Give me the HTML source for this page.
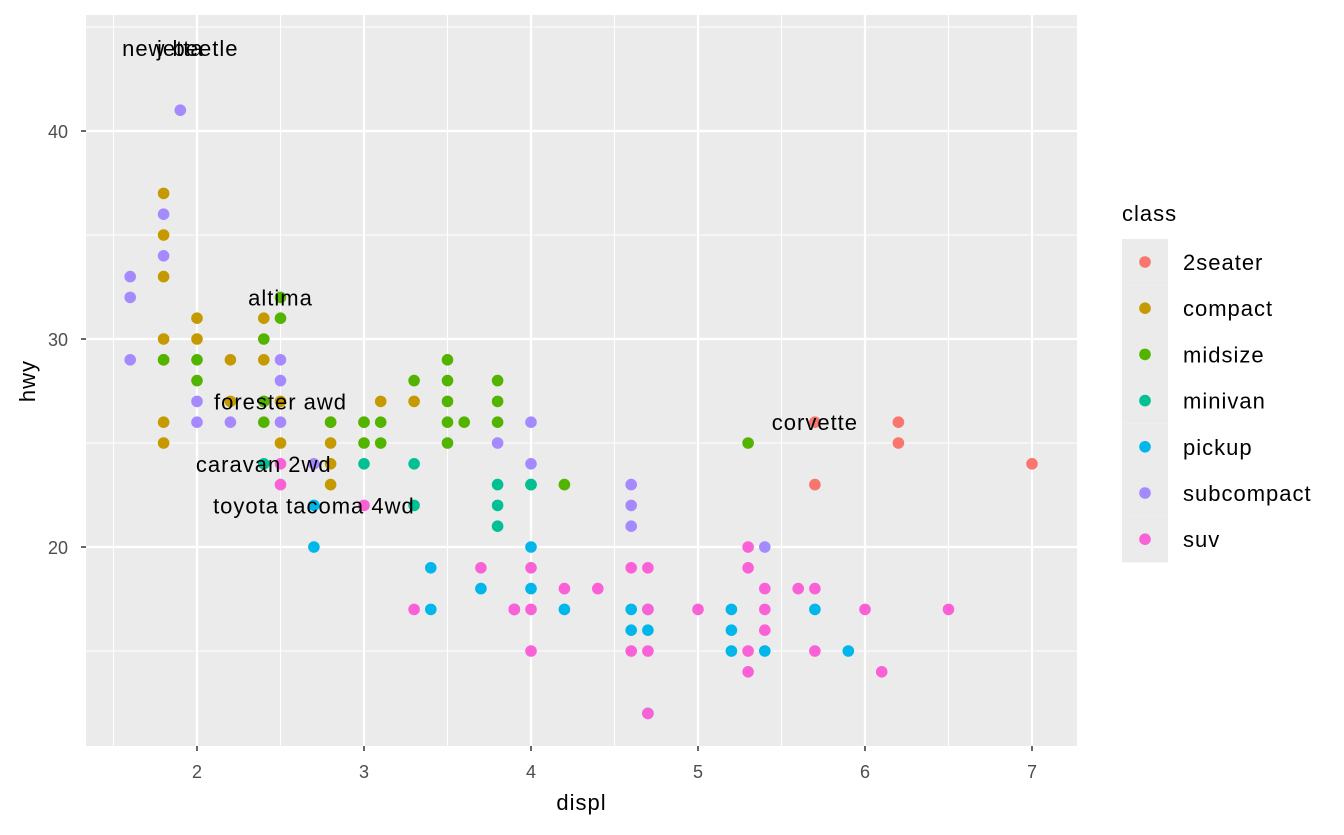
<!DOCTYPE html>
<html><head><meta charset="utf-8"><style>
body{margin:0;background:#fff;font-family:"Liberation Sans",sans-serif;}
</style></head><body>
<svg id="chart" width="1344" height="830" xmlns="http://www.w3.org/2000/svg"></svg>
<script>
const classes=["2seater","compact","midsize","minivan","pickup","subcompact","suv"];
const colors=["#F8766D","#C49A00","#53B400","#00C094","#00B6EB","#A58AFF","#FB61D7"];
const displ2seater=[5.7,5.7,6.2,6.2,7.0];
const hwy2seater=[26,23,26,25,24];
const displCompact=[1.8,1.8,1.8,1.8,1.8,1.8,1.8,2.0,2.0,2.2,2.2,2.4,2.4,2.4,2.5,2.5,2.8,2.8,2.8,2.8,3.0,3.1,3.3];
const hwyCompact=[37,35,33,30,29,26,25,31,30,29,27,31,29,27,27,25,26,25,24,23,26,27,27];
const displMidsize=[1.8,2.0,2.0,2.4,2.4,2.4,2.5,2.5,2.8,3.0,3.0,3.1,3.1,3.3,3.5,3.5,3.5,3.5,3.5,3.6,3.8,3.8,3.8,4.0,4.2,5.3];
const hwyMidsize=[29,29,28,30,27,26,32,31,26,26,25,26,25,28,29,28,27,26,25,26,28,27,26,23,23,25];
const displMinivan=[2.4,3.0,3.3,3.3,3.8,3.8,3.8,4.0];
const hwyMinivan=[24,24,24,22,23,22,21,23];
const displPickup=[2.7,2.7,3.4,3.4,3.7,3.9,4.0,4.0,4.2,4.6,4.6,4.7,4.7,4.7,5.2,5.2,5.2,5.4,5.7,5.9];
const hwyPickup=[22,20,19,17,18,17,20,18,17,17,16,17,16,12,17,16,15,15,17,15];
const displSubcompact=[1.6,1.6,1.6,1.8,1.8,1.9,2.0,2.0,2.2,2.5,2.5,2.5,2.7,3.8,4.0,4.0,4.6,4.6,4.6,5.4,3.9];
const hwySubcompact=[33,32,29,36,34,41,27,26,26,29,28,26,24,25,26,24,23,22,21,20,17];
const displSuv=[2.5,2.5,3.0,3.3,3.7,3.9,4.0,4.0,4.0,4.2,4.4,4.6,4.6,4.7,4.7,4.7,4.7,5.0,5.3,5.3,5.3,5.3,5.4,5.4,5.4,5.6,5.7,5.7,6.0,6.1,6.5];
const hwySuv=[24,23,22,17,19,17,19,17,15,18,18,19,15,19,17,15,12,17,20,19,15,14,18,17,16,18,18,15,17,14,17];
const xTicks=[2,3,4,5,6,7];
const yTicks=[20,30,40];
const labelText=["new beetle","jetta","altima","forester awd","caravan 2wd","toyota tacoma 4wd","corvette"];
const labelX=[1.9,1.9,2.5,2.5,2.4,2.7,5.7];
const labelY=[44,44,32,27,24,22,26];

const series=[[displ2seater,hwy2seater],[displCompact,hwyCompact],[displMidsize,hwyMidsize],[displMinivan,hwyMinivan],[displPickup,hwyPickup],[displSubcompact,hwySubcompact],[displSuv,hwySuv]];
const P={l:86,t:15,r:1077,b:746};
const sx=d=>197+(d-2)*167;
const sy=h=>547-(h-20)*20.8;
const svg=document.getElementById('chart');
const NS="http://www.w3.org/2000/svg";
function mk(tag,attrs,parent){const e=document.createElementNS(NS,tag);for(const k in attrs)e.setAttribute(k,attrs[k]);(parent||svg).appendChild(e);return e;}
const bg=mk('rect',{x:P.l,y:P.t,width:P.r-P.l,height:P.b-P.t,fill:'#EBEBEB'});


for(let v=1.5;v<=7.5;v+=1){const g=mk('line',{x1:sx(v),x2:sx(v),y1:P.t,y2:P.b,stroke:'#fff','stroke-width':1});

}
for(let v=15;v<=45;v+=10){const g=mk('line',{x1:P.l,x2:P.r,y1:sy(v),y2:sy(v),stroke:'#fff','stroke-width':1});

}
xTicks.forEach(v=>{const g=mk('line',{x1:sx(v),x2:sx(v),y1:P.t,y2:P.b,stroke:'#fff','stroke-width':2.2});


const tk=mk('line',{x1:sx(v),x2:sx(v),y1:P.b,y2:P.b+5,stroke:'#333','stroke-width':1.5});


const t=mk('text',{x:sx(v),y:P.b+32,'text-anchor':'middle','font-size':18,fill:'#4D4D4D'});t.textContent=v;

});
yTicks.forEach(v=>{const g=mk('line',{x1:P.l,x2:P.r,y1:sy(v),y2:sy(v),stroke:'#fff','stroke-width':2.2});


const tk=mk('line',{x1:P.l-5,x2:P.l,y1:sy(v),y2:sy(v),stroke:'#333','stroke-width':1.5});


const t=mk('text',{x:68,y:sy(v)+7,'text-anchor':'end','font-size':18,fill:'#4D4D4D'});t.textContent=v;

});
series.forEach((s,i)=>{s[0].forEach((d,j)=>{const c=mk('circle',{cx:sx(d),cy:sy(s[1][j]),r:5.8,fill:colors[i]});

});});
labelText.forEach((txt,i)=>{const t=mk('text',{x:sx(labelX[i]),y:sy(labelY[i])+8,'text-anchor':'middle','font-size':22,'letter-spacing':1,fill:'#000'});t.textContent=txt;

});
const xt=mk('text',{x:(P.l+P.r)/2,y:810,'text-anchor':'middle','font-size':22,'letter-spacing':1,fill:'#000'});xt.textContent='displ';


const yt=mk('text',{x:0,y:0,'text-anchor':'middle','font-size':22,'letter-spacing':1,fill:'#000',transform:'translate(35,381) rotate(-90)'});yt.textContent='hwy';


const lt=mk('text',{x:1122,y:221,'font-size':22,'letter-spacing':1,fill:'#000'});lt.textContent='class';


classes.forEach((c,i)=>{const y=262+i*46.2;
const k=mk('rect',{x:1122,y:y-23,width:46,height:46.2,fill:'#EBEBEB'});


const p=mk('circle',{cx:1145,cy:y,r:5.8,fill:colors[i]});


const t=mk('text',{x:1183,y:y+8,'font-size':22,'letter-spacing':1,fill:'#000'});t.textContent=c;

});
</script>
</body></html>
